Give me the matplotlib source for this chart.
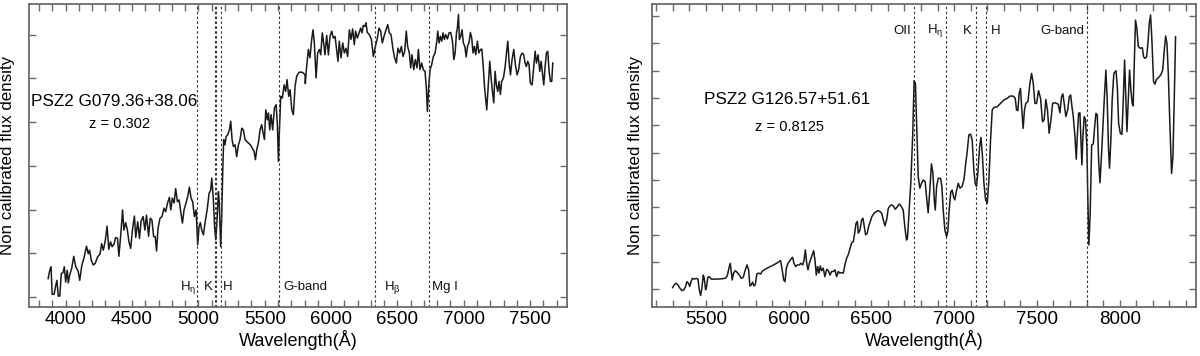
import numpy as np
import matplotlib.pyplot as plt
from matplotlib.ticker import MultipleLocator

# fonts close to Helvetica
plt.rcParams['font.family'] = ['Liberation Sans', 'DejaVu Sans']
plt.rcParams['mathtext.fontset'] = 'custom'
plt.rcParams['mathtext.rm'] = 'Liberation Sans'
plt.rcParams['mathtext.it'] = 'Liberation Sans'
plt.rcParams['mathtext.bf'] = 'Liberation Sans:bold'

# ---- left spectrum: PSZ2 G079.36+38.06, z = 0.302 (flux in tick units) ----
wave_a = [3868, 3880, 3890, 3898, 3913, 3923, 3934, 3944, 3956, 3967, 3979, 3990,
          4000, 4012, 4020, 4030, 4045, 4061, 4076, 4094, 4106, 4122, 4137, 4157,
          4170, 4180, 4193, 4208, 4223, 4241, 4259, 4271, 4284, 4299, 4312, 4325,
          4338, 4350, 4365, 4376, 4391, 4401, 4414, 4429, 4439, 4452, 4465, 4477,
          4490, 4503, 4518, 4528, 4543, 4556, 4569, 4584, 4597, 4609, 4625, 4637,
          4650, 4663, 4675, 4685, 4696, 4711, 4726, 4741, 4754, 4767, 4782,
          4792, 4804, 4817, 4829, 4842, 4855, 4867, 4880, 4892, 4907, 4920, 4932,
          4945, 4957, 4970, 4983, 4995, 5005, 5015, 5025, 5038, 5050, 5066, 5081,
          5093, 5101, 5113, 5123, 5131, 5141, 5151, 5158, 5168, 5176, 5184, 5191,
          5201, 5209, 5221, 5234, 5244, 5254, 5264, 5277, 5289, 5302, 5314, 5327,
          5339, 5352, 5364, 5377, 5392, 5407, 5420, 5430, 5440, 5452, 5465, 5477,
          5488, 5498, 5508, 5520, 5528, 5538, 5548, 5560, 5573, 5586, 5596, 5603,
          5611, 5621, 5633, 5646, 5658, 5668, 5681, 5691, 5704, 5716, 5729, 5741,
          5759, 5784, 5804,
          5806, 5816, 5829, 5841, 5854, 5864, 5874, 5887, 5899, 5912, 5922, 5934,
          5944, 5954, 5967, 5980, 5992, 6005, 6017, 6030, 6042, 6052, 6062, 6075,
          6088, 6100, 6113, 6125, 6138, 6150, 6163, 6175, 6185, 6198, 6211, 6223,
          6233, 6243, 6256, 6263, 6273, 6288, 6304, 6319, 6334, 6349, 6361, 6374,
          6386, 6399, 6414, 6427, 6439, 6452, 6467, 6479, 6492, 6504, 6517, 6530,
          6542, 6555, 6567, 6577, 6590, 6600, 6610, 6623, 6635, 6648, 6658, 6670,
          6683, 6695, 6708, 6718, 6726, 6736, 6746, 6758, 6771,
          6784, 6797, 6804, 6814, 6824, 6834, 6844, 6854, 6864, 6877, 6889, 6902,
          6915, 6925, 6935, 6945, 6952, 6960, 6967, 6977, 6987, 6997, 7008, 7018,
          7028, 7040, 7050, 7060, 7070, 7080, 7090, 7103, 7113, 7126, 7136, 7146,
          7156, 7166, 7173, 7183, 7196, 7206, 7216, 7226, 7236, 7246, 7256, 7266,
          7276, 7286, 7299, 7312, 7322, 7332, 7342, 7352, 7364, 7377, 7389, 7402,
          7414, 7427, 7440, 7452, 7462, 7472, 7482, 7492, 7502, 7515, 7528, 7538,
          7548, 7560, 7573, 7583, 7593, 7603, 7613, 7623, 7633, 7643, 7653, 7663,
          7671]
flux_a = [0.42, 0.61, 0.69, 0.06, 0.06, 0.23, 0.38, 0.02, 0.02, 0.54, 0.55, 0.69,
          0.34, 0.61, 0.32, 0.50, 0.65, 0.93, 0.69, 0.59, 0.38, 0.73, 0.88, 1.16,
          0.99, 1.07, 0.84, 0.73, 0.77, 0.92, 0.98, 1.22, 1.07, 1.30, 1.62, 1.09,
          1.26, 1.15, 1.21, 1.36, 1.34, 0.93, 1.38, 1.99, 1.53, 1.70, 1.53, 1.26,
          1.11, 1.53, 1.85, 1.36, 1.72, 1.34, 1.74, 1.84, 1.53, 1.87, 1.39, 1.80,
          1.76, 1.38, 1.38, 1.05, 1.57, 1.80, 1.84, 2.03, 1.95, 2.14, 2.28,
          1.99, 2.26, 2.15, 2.48, 2.18, 2.22, 1.95, 1.69, 1.99, 2.15, 2.30, 2.51,
          2.26, 2.18, 1.84, 1.99, 1.19, 1.61, 1.70, 1.53, 1.42, 1.69, 1.99, 2.37,
          2.45, 2.72, 2.22, 1.57, 1.31, 1.76, 2.41, 2.15, 1.15, 1.84, 2.91, 3.60,
          3.48, 3.67, 3.71, 3.82, 4.02, 3.60, 3.44, 3.48, 3.21, 3.48, 3.60, 3.86,
          3.82, 3.60, 3.56, 3.52, 3.48, 3.40, 3.33, 3.14, 3.37, 3.52, 3.82, 3.94,
          3.75, 3.60, 4.28, 4.05, 4.21, 3.82, 4.17, 3.82, 4.32, 4.40, 3.90, 3.10,
          3.82, 4.59, 4.55, 4.85, 4.70, 4.97, 4.59, 4.74, 4.28, 4.17, 4.82, 5.05,
          5.14, 5.14, 5.08,
          4.88, 5.27, 5.66, 5.47, 5.89, 6.11, 5.81, 5.01, 5.58, 5.66, 5.54, 6.04,
          5.81, 5.54, 5.98, 5.54, 5.96, 6.08, 5.92, 5.96, 5.66, 5.39, 5.85, 5.47,
          5.81, 5.58, 5.69, 5.50, 6.11, 5.89, 6.13, 5.77, 6.08, 5.92, 6.04, 6.15,
          6.04, 6.21, 6.19, 6.27, 6.05, 6.00, 5.89, 5.50, 5.73, 5.92, 6.15, 6.08,
          5.81, 5.96, 6.11, 6.23, 6.04, 6.00, 5.66, 5.47, 5.35, 5.69, 5.58, 5.73,
          5.50, 5.62, 6.08, 5.73, 5.58, 5.24, 5.54, 5.20, 5.43, 5.24, 5.66, 5.20,
          5.35, 5.20, 5.16, 4.78, 4.24, 4.82, 5.20, 5.31, 5.50,
          5.58, 5.85, 6.08, 5.81, 5.96, 5.85, 6.04, 5.89, 6.00, 5.90, 6.04, 6.05,
          5.85, 5.43, 5.58, 6.04, 6.15, 6.46, 5.89, 5.96, 6.11, 5.81, 5.73, 5.49,
          5.73, 5.82, 6.05, 5.92, 5.58, 5.73, 5.54, 5.85, 5.58, 5.66, 5.67, 5.31,
          4.82, 4.51, 4.28, 4.78, 5.39, 5.01, 4.70, 4.44, 5.16, 4.85, 4.70, 4.93,
          4.63, 4.93, 5.01, 5.27, 5.58, 5.85, 5.35, 5.08, 5.43, 5.66, 5.31, 5.08,
          5.20, 5.50, 5.58, 5.54, 5.35, 5.27, 5.39, 5.31, 4.89, 4.85, 5.27, 5.62,
          5.35, 5.54, 5.16, 5.39, 5.12, 4.85, 5.27, 5.58, 5.62, 5.16, 4.93, 4.93,
          5.35]

# ---- right spectrum: PSZ2 G126.57+51.61, z = 0.8125 ----
wave_b = [5299, 5309, 5319, 5331, 5343, 5355, 5367, 5377, 5385, 5394, 5402, 5410,
          5418, 5430, 5442, 5452, 5460, 5468, 5476, 5484, 5490, 5498, 5504, 5512,
          5520, 5533, 5557, 5587, 5617, 5629, 5639, 5647, 5653, 5659, 5667, 5678,
          5690, 5702, 5714, 5726, 5738, 5748, 5758, 5766, 5774, 5782, 5790, 5798,
          5808, 5818, 5831, 5839, 5851, 5879, 5909, 5935, 5951, 5961, 5970, 5978,
          5986, 5996, 6008, 6016,
          6024, 6032, 6042, 6052, 6064, 6074, 6085, 6093, 6101, 6109, 6117, 6125,
          6135, 6145, 6151, 6159, 6167, 6175, 6183, 6191, 6199, 6209, 6219, 6230,
          6240, 6250, 6260, 6270, 6280, 6290, 6300, 6310, 6320, 6330, 6340, 6350,
          6360, 6371, 6381, 6391, 6399, 6407, 6415, 6421, 6431, 6441, 6449, 6457,
          6465, 6475, 6483, 6493, 6503, 6516, 6528, 6540, 6552, 6562, 6572, 6582,
          6592, 6602, 6612, 6622, 6632, 6644, 6657, 6669,
          6682, 6692, 6702, 6712, 6718, 6726, 6738, 6750, 6758, 6766, 6775, 6783,
          6793, 6803, 6813, 6825, 6833, 6843, 6853, 6863, 6872, 6880, 6886, 6894,
          6904, 6918, 6926, 6934, 6944, 6954, 6962, 6970, 6980, 6988, 6996, 7004,
          7015, 7025, 7035, 7047, 7059, 7069, 7079, 7089, 7099, 7109, 7119, 7127,
          7135, 7143, 7154, 7162, 7170, 7180, 7190, 7200, 7210, 7220, 7230, 7240,
          7260, 7280, 7301, 7321, 7337, 7357, 7369, 7377, 7385, 7393, 7401, 7409,
          7417, 7425, 7433, 7446, 7458, 7468, 7478, 7488, 7498, 7510, 7522, 7534,
          7544, 7554, 7564, 7574, 7585, 7595, 7607,
          7619, 7629, 7639, 7649, 7657, 7665, 7675, 7686, 7696, 7704, 7712, 7720,
          7730, 7738, 7744, 7752, 7760, 7766, 7772, 7778, 7786, 7794, 7802, 7808,
          7814, 7822, 7831, 7841, 7849, 7857, 7865, 7873, 7881, 7889, 7897, 7907,
          7917, 7925, 7933, 7939, 7947, 7955, 7965, 7978, 7986, 7994, 8004, 8014,
          8022, 8030, 8038, 8044, 8052, 8060, 8068, 8076, 8082, 8088, 8096, 8104,
          8113, 8125, 8137, 8145, 8153, 8163, 8171, 8179, 8187, 8195, 8205, 8213,
          8223, 8237, 8249, 8260, 8270, 8278, 8286, 8294, 8304, 8314, 8322, 8330,
          8338]
flux_b = [0.06, 0.16, 0.22, 0.16, 0.04, -0.05, -0.02, 0.10, 0.28, 0.22, 0.10, 0.28,
          0.40, 0.37, 0.40, 0.37, -0.02, -0.23, 0.04, 0.52, 0.40, -0.02, 0.10, 0.44,
          0.46, 0.37, 0.37, 0.38, 0.40, 0.49, 0.77, 0.95, 0.65, 0.34, 0.59, 0.68,
          0.61, 0.52, 0.40, 0.44, 0.71, 0.89, 0.71, 0.12, 0.16, 0.26, 0.12, 0.16,
          0.56, 0.59, 0.56, 0.65, 0.71, 0.80, 0.89, 0.98, 1.05, 0.71, 0.34, 0.28,
          0.77, 0.95, 1.05, 1.13,
          1.17, 0.95, 0.83, 0.89, 0.89, 0.95, 0.89, 1.07, 1.44, 0.95, 0.71, 0.95,
          1.13, 1.32, 1.41, 1.07, 0.52, 0.83, 0.59, 0.85, 0.68, 0.77, 0.46, 0.73,
          0.68, 0.52, 0.65, 0.65, 0.71, 0.46, 0.65, 0.59, 0.61, 0.59, 0.89, 1.13,
          1.26, 1.50, 1.71, 1.74, 2.05, 2.41, 2.48, 2.05, 2.17, 2.54, 2.60, 2.29,
          1.99, 2.05, 2.29, 2.48, 2.66, 2.78, 2.84, 2.88, 2.84, 2.78, 2.54, 2.32,
          2.54, 2.96, 3.05, 3.09, 3.05, 2.93, 3.02, 3.12,
          3.02, 2.90, 2.29, 1.80, 1.87, 2.66, 3.88, 5.71, 7.63, 7.54, 5.71, 4.12,
          3.70, 3.88, 4.00, 3.94, 3.39, 2.80, 3.63, 4.59, 4.24, 3.27, 2.90, 3.76,
          4.06, 4.06, 3.76, 2.90, 2.17, 1.93, 2.11, 2.90, 3.57, 3.63, 3.39, 3.27,
          3.63, 3.88, 3.70, 3.76, 4.00, 4.55, 5.04, 5.65, 5.68, 5.46, 4.37, 3.88,
          3.76, 4.24, 5.22, 5.56, 4.98, 3.88, 3.27, 3.15, 4.00, 5.46, 6.56, 6.65,
          6.68, 6.80, 6.93, 6.99, 7.07, 7.07, 6.99, 6.56, 6.54, 7.17, 7.35, 6.56,
          5.89, 6.56, 6.80, 6.87, 7.54, 7.90, 7.54, 6.80, 6.80, 7.27, 6.99, 6.13,
          6.20, 6.95, 6.56, 5.71, 6.20, 6.80, 6.83,
          6.80, 6.78, 6.46, 7.05, 7.15, 6.80, 6.32, 6.56, 7.05, 7.11, 6.68, 6.32,
          5.59, 4.76, 5.59, 6.44, 6.46, 5.46, 4.55, 5.59, 6.32, 6.20, 5.22, 3.27,
          1.62, 2.78, 5.28, 5.32, 5.95, 6.44, 6.38, 4.73, 3.90, 4.73, 5.71, 6.93,
          8.02, 6.93, 5.10, 4.43, 5.46, 6.93, 7.90, 8.00, 7.41, 6.07, 5.71, 5.67,
          6.93, 8.39, 6.93, 5.77, 6.93, 8.02, 7.29, 6.80, 6.71, 8.15, 9.85, 9.55,
          8.88, 8.82, 8.84, 8.51, 8.45, 8.51, 9.00, 9.73, 10.04, 9.12, 7.60, 7.51,
          7.68, 7.76, 7.85, 8.02, 8.76, 9.27, 9.00, 7.90, 5.95, 4.24, 4.85, 6.93,
          9.24]

# line identifications (observed wavelength, label, text x, alignment)
lines_a = [4993, 5122, 5136, 5168, 5604, 6329, 6738]
labels_a = ['H$_\\eta$', 'K', 'H', 'G-band', 'H$_\\beta$', 'Mg I']
label_x_a = [4985, 5110, 5185, 5640, 6400, 6760]
label_ha_a = ['right', 'right', 'left', 'left', 'left', 'left']

lines_b = [6755, 6951, 7130, 7194, 7801]
labels_b = ['OII', 'H$_\\eta$', 'K', 'H', 'G-band']
label_x_b = [6739, 6932, 7107, 7222, 7784]
label_ha_b = ['right', 'right', 'right', 'left', 'right']

frame = '#6a6a6a'

fig = plt.figure(figsize=(12, 3.56), dpi=100)
ax1 = fig.add_axes([0.0242, 0.1376, 0.4483, 0.8511])
ax2 = fig.add_axes([0.5433, 0.1376, 0.4533, 0.8511])

panels = [
    (ax1, wave_a, flux_a, lines_a, labels_a, label_x_a, label_ha_a, 0.066,
     (3724, 7778), (-0.23, 6.70), 7, 'PSZ2 G079.36+38.06', 'z = 0.302',
     (0.158, 0.677), (0.169, 0.604), -0.026),
    (ax2, wave_b, flux_b, lines_b, labels_b, label_x_b, label_ha_b, 0.911,
     (5174, 8461), (-0.65, 10.44), 11, 'PSZ2 G126.57+51.61', 'z = 0.8125',
     (0.249, 0.686), (0.252, 0.594), -0.017),
]

for (ax, w, f, lines, labels, lx, lha, ly, xlim, ylim, nyt, name, zt,
     name_pos, z_pos, ylab_x) in panels:
    ax.plot(w, f, color='#1a1a1a', lw=1.1)
    for x in lines:
        ax.axvline(x, color='#333333', lw=0.8, ls=(0, (2.2, 2.2)))
    for txt, x, ha in zip(labels, lx, lha):
        ax.text(x, ly, txt, transform=ax.get_xaxis_transform(), ha=ha,
                va='center', fontsize=9.5, color='#111111')
    ax.text(*name_pos, name, transform=ax.transAxes, ha='center',
            va='center', fontsize=12.3)
    ax.text(*z_pos, zt, transform=ax.transAxes, ha='center', va='center',
            fontsize=10.5)

    ax.set_xlim(*xlim)
    ax.set_ylim(*ylim)
    ax.xaxis.set_major_locator(MultipleLocator(500))
    ax.xaxis.set_minor_locator(MultipleLocator(100))
    ax.set_yticks(np.arange(nyt))
    ax.tick_params(axis='both', which='both', direction='in', top=True,
                   right=True, color=frame, width=1.0)
    ax.tick_params(axis='both', which='major', length=5)
    ax.tick_params(axis='both', which='minor', length=5)
    ax.tick_params(axis='x', labelsize=13.5, pad=3)
    ax.tick_params(axis='y', labelleft=False)
    for s in ax.spines.values():
        s.set_color(frame)
        s.set_linewidth(1.3)

    ax.set_xlabel('Wavelength(Å)', fontsize=13, labelpad=1)
    ax.set_ylabel('Non calibrated flux density', fontsize=12.2)
    ax.yaxis.set_label_coords(ylab_x, 0.5)

fig.savefig('out.png', dpi=100)
